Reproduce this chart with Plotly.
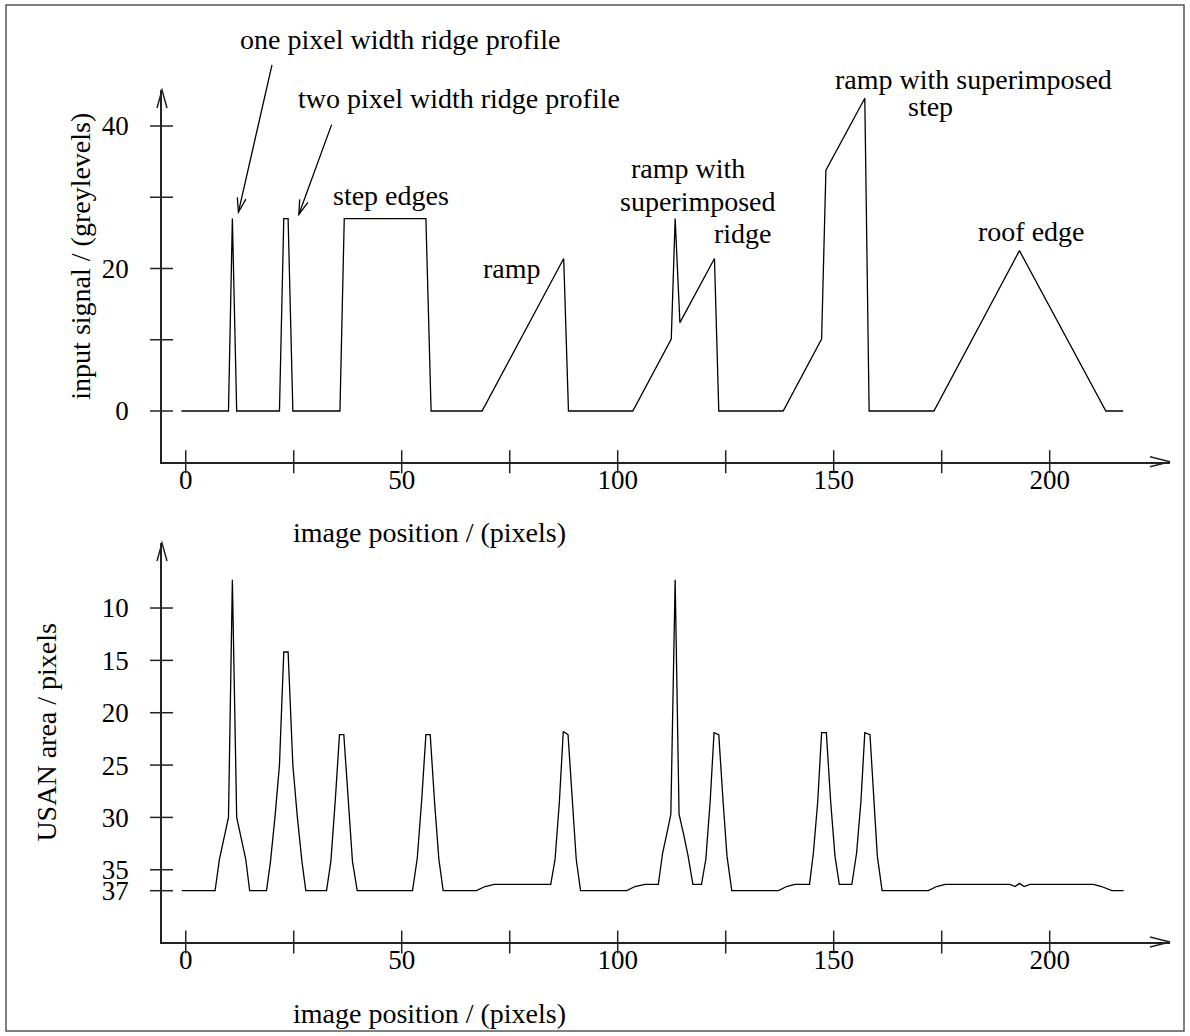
import math
import plotly.graph_objects as go

# ---------------- data ----------------
# top panel: input signal (greylevels) against image position (pixels)
pos_signal = [-1.0, 9.9, 10.8, 11.8, 21.7, 22.7, 23.7, 24.8, 35.7, 36.7, 55.6, 56.8,
              68.6, 87.5, 88.6, 103.5, 112.4, 113.3, 114.4, 122.4, 123.4,
              138.3, 147.2, 148.2, 157.2, 158.2, 173.2, 193.0, 213.0, 217.0]
signal = [0, 0, 27, 0, 0, 27, 27, 0, 0, 27, 27, 0,
          0, 21.4, 0, 0, 10.1, 27, 12.4, 21.4, 0,
          0, 10.1, 33.8, 43.9, 0, 0, 22.5, 0, 0]

# bottom panel: USAN area (pixels) against image position (pixels)
pos_usan = [-0.9, 6.8, 7.8, 9.9, 10.8, 11.8, 13.9, 14.8,
            18.7, 19.6, 20.7, 21.7, 22.7, 23.7, 24.8, 25.8, 26.9, 27.8,
            32.6, 33.6, 34.6, 35.6, 36.6, 37.6, 38.6, 39.7,
            52.5, 53.6, 54.6, 55.6, 56.6, 57.6, 58.6, 59.6,
            67.3, 69.3, 71.4, 84.5, 85.5, 86.5, 87.4, 88.5, 89.5, 90.4, 91.4,
            102.1, 104.0, 106.3, 109.4, 110.4, 111.4, 112.3, 113.3, 114.2, 115.3, 116.3, 117.4,
            119.4, 120.4, 121.4, 122.3, 123.4, 124.4, 125.3, 126.4,
            137.2, 139.1, 141.0, 144.4, 145.3, 146.3, 147.2, 148.3, 149.3, 150.3, 151.3,
            154.2, 155.3, 156.3, 157.2, 158.4, 159.3, 160.1, 161.2,
            171.9, 173.8, 175.8, 190.8, 192.0, 193.0, 194.1, 195.4, 210.1, 212.0, 214.4, 217.1]
usan = [37, 37, 34, 30, 7.3, 30, 34, 37,
        37, 34.3, 29.8, 25, 14.2, 14.2, 25, 29.8, 34.2, 37,
        37, 34.2, 28.5, 22.1, 22.1, 28.5, 34.2, 37,
        37, 33.9, 28.5, 22.1, 22.1, 28.5, 34, 37,
        37, 36.6, 36.4, 36.4, 34, 28.5, 21.8, 22.1, 28.5, 34, 37,
        37, 36.6, 36.4, 36.4, 33.4, 31.5, 29.7, 7.3, 29.7, 31.7, 33.7, 36.4,
        36.4, 34, 28.5, 21.9, 22.1, 28.5, 33.7, 37,
        37, 36.6, 36.4, 36.4, 33.4, 28.5, 21.9, 21.9, 28.5, 33.7, 36.4,
        36.4, 33.4, 28.5, 21.9, 22.1, 28.5, 33.7, 37,
        37, 36.6, 36.4, 36.4, 36.6, 36.3, 36.6, 36.4, 36.4, 36.6, 37, 37]

x_tick_vals = [0, 25, 50, 75, 100, 125, 150, 175, 200]
x_tick_text = ["0", "", "50", "", "100", "", "150", "", "200"]
y1_tick_vals = [0, 10, 20, 30, 40]
y1_tick_text = ["0", "", "20", "", "40"]
y2_tick_vals = [10, 15, 20, 25, 30, 35, 37]
y2_tick_text = ["10", "15", "20", "25", "30", "35", "37"]

x_title = "image position / (pixels)"
y1_title = "input signal / (greylevels)"
y2_title = "USAN area / pixels"

# feature labels: (text, x, y) in top-panel data units
feature_labels = [
    ("one pixel width ridge profile", 49.6, 52.07),
    ("two pixel width ridge profile", 63.15, 43.79),
    ("step edges", 47.5, 30.22),
    ("ramp", 75.5, 19.93),
    ("ramp with", 116.3, 34.1),
    ("superimposed", 118.5, 29.43),
    ("ridge", 129.0, 24.98),
    ("ramp with superimposed", 182.3, 46.5),
    ("step", 172.4, 42.77),
    ("roof edge", 195.9, 25.19),
]
# pointer arrows: (tail, tip) in top-panel data units
pointers = [((20.05, 48.8), (12.2, 27.9)),
            ((33.9, 40.4), (26.2, 27.6))]

# ---------------- layout geometry ----------------
W, H = 1190, 1036
M_L, M_R, M_T, M_B = 162, 20, 90, 94
PLOT_W = W - M_L - M_R
PLOT_H = H - M_T - M_B
X_RANGE = [-5.49, 227.85]
Y1_RANGE = [-7.12, 45.05]
Y2_RANGE = [41.90, 3.79]
TOP_DOMAIN = [0.5637, 1.0]
BOT_DOMAIN = [0.0, 0.4683]

FONT = "Liberation Serif"
AX_COL = "#222222"
LW_AX = 1.5
LW_DATA = 1.3
TXT = 28
TICK_TXT = 27

fig = go.Figure()
fig.add_trace(go.Scatter(x=pos_signal, y=signal, mode="lines",
                         line=dict(color="black", width=LW_DATA),
                         xaxis="x", yaxis="y", hoverinfo="skip", showlegend=False))
fig.add_trace(go.Scatter(x=pos_usan, y=usan, mode="lines",
                         line=dict(color="black", width=LW_DATA),
                         xaxis="x2", yaxis="y2", hoverinfo="skip", showlegend=False))

def xaxis_cfg(anchor):
    return dict(domain=[0, 1], anchor=anchor, range=X_RANGE, showline=True,
                linecolor=AX_COL, linewidth=LW_AX, showgrid=False, zeroline=False,
                tickmode="array", tickvals=x_tick_vals, ticktext=x_tick_text,
                ticks="", ticklabelstandoff=-7,
                tickfont=dict(family=FONT, size=TICK_TXT, color="black"), fixedrange=True)

def yaxis_cfg(anchor, domain, rng, vals, texts):
    return dict(domain=domain, anchor=anchor, range=rng, showline=True,
                linecolor=AX_COL, linewidth=LW_AX, showgrid=False, zeroline=False,
                tickmode="array", tickvals=vals, ticktext=texts,
                ticks="", ticklabelstandoff=26,
                tickfont=dict(family=FONT, size=TICK_TXT, color="black"), fixedrange=True)

shapes = []
# crossing tick marks
for xr, yr in (("x", "y domain"), ("x2", "y2 domain")):
    for v in x_tick_vals:
        shapes.append(dict(type="line", xref=xr, yref=yr, x0=v, x1=v,
                           ysizemode="pixel", yanchor=0, y0=-11.5, y1=11.5,
                           line=dict(color=AX_COL, width=LW_AX)))
for xr, yr, vals in (("x domain", "y", y1_tick_vals), ("x2 domain", "y2", y2_tick_vals)):
    for v in vals:
        shapes.append(dict(type="line", xref=xr, yref=yr, y0=v, y1=v,
                           xsizemode="pixel", xanchor=0, x0=-12, x1=11,
                           line=dict(color=AX_COL, width=LW_AX)))
# axis arrow heads
for xr, yr in (("x domain", "y domain"), ("x2 domain", "y2 domain")):
    shapes.append(dict(type="path", xref=xr, yref=yr, xsizemode="pixel", ysizemode="pixel",
                       xanchor=1, yanchor=0, path="M-20,5 L0,0 L-20,-5",
                       fillcolor="rgba(0,0,0,0)", line=dict(color=AX_COL, width=LW_AX)))
    shapes.append(dict(type="path", xref=xr, yref=yr, xsizemode="pixel", ysizemode="pixel",
                       xanchor=0, yanchor=1, path="M-5,-18 L0,0 L5,-18",
                       fillcolor="rgba(0,0,0,0)", line=dict(color=AX_COL, width=LW_AX)))

# pointer arrow heads (open V)
px_x = PLOT_W / (X_RANGE[1] - X_RANGE[0])
px_y = PLOT_H * (TOP_DOMAIN[1] - TOP_DOMAIN[0]) / (Y1_RANGE[1] - Y1_RANGE[0])

def v_head(tail, tip, length=15.0, half_angle=17.0):
    dx = (tip[0] - tail[0]) * px_x
    dy = (tip[1] - tail[1]) * px_y
    n = math.hypot(dx, dy)
    bx, by = -dx / n, -dy / n
    pts = []
    for s in (1, -1):
        a = math.radians(half_angle) * s
        rx = bx * math.cos(a) - by * math.sin(a)
        ry = bx * math.sin(a) + by * math.cos(a)
        pts.append((rx * length, ry * length))
    return "M{:.2f},{:.2f} L0,0 L{:.2f},{:.2f}".format(pts[0][0], pts[0][1], pts[1][0], pts[1][1])

for tail, tip in pointers:
    shapes.append(dict(type="path", xref="x", yref="y", xsizemode="pixel", ysizemode="pixel",
                       xanchor=tip[0], yanchor=tip[1], path=v_head(tail, tip),
                       fillcolor="rgba(0,0,0,0)", line=dict(color="black", width=LW_DATA)))

# outer frame
def px_to_paper_x(px):
    return (px - M_L) / PLOT_W

def px_to_paper_y(py):
    return (H - M_B - py) / PLOT_H

shapes.append(dict(type="rect", xref="paper", yref="paper",
                   x0=px_to_paper_x(6), x1=px_to_paper_x(1184),
                   y0=px_to_paper_y(1031), y1=px_to_paper_y(5),
                   line=dict(color="#555555", width=1.5), fillcolor="rgba(0,0,0,0)", layer="below"))

def y1_to_domain(v):
    return (v - Y1_RANGE[0]) / (Y1_RANGE[1] - Y1_RANGE[0])

annotations = []
for text, x, y in feature_labels:
    annotations.append(dict(text=text, x=x, y=y1_to_domain(y), xref="x", yref="y domain",
                            showarrow=False, xanchor="center", yanchor="middle",
                            font=dict(family=FONT, size=TXT, color="black")))
for tail, tip in pointers:
    annotations.append(dict(text="", x=tip[0], y=tip[1], ax=tail[0], ay=tail[1],
                            xref="x", yref="y", axref="x", ayref="y",
                            showarrow=True, arrowhead=0, arrowwidth=LW_DATA,
                            arrowcolor="black", standoff=0, startstandoff=0))
# axis titles
for xr, yr in (("x", "y domain"), ("x2", "y2 domain")):
    annotations.append(dict(text=x_title, x=56.4, y=0, xref=xr, yref=yr, yshift=-71,
                            showarrow=False, xanchor="center", yanchor="middle",
                            font=dict(family=FONT, size=TXT, color="black")))
annotations.append(dict(text=y1_title, x=0, y=21.66, xref="x domain", yref="y", xshift=-81,
                        textangle=-90, showarrow=False, xanchor="center", yanchor="middle",
                        font=dict(family=FONT, size=TXT, color="black")))
annotations.append(dict(text=y2_title, x=0, y=21.9, xref="x2 domain", yref="y2", xshift=-115,
                        textangle=-90, showarrow=False, xanchor="center", yanchor="middle",
                        font=dict(family=FONT, size=TXT, color="black")))

fig.update_layout(
    width=W, height=H, autosize=False,
    margin=dict(l=M_L, r=M_R, t=M_T, b=M_B, pad=0),
    paper_bgcolor="white", plot_bgcolor="white",
    font=dict(family=FONT, color="black"),
    showlegend=False,
    xaxis=xaxis_cfg("y"),
    xaxis2=xaxis_cfg("y2"),
    yaxis=yaxis_cfg("x", TOP_DOMAIN, Y1_RANGE, y1_tick_vals, y1_tick_text),
    yaxis2=yaxis_cfg("x2", BOT_DOMAIN, Y2_RANGE, y2_tick_vals, y2_tick_text),
    shapes=shapes,
    annotations=annotations,
)

fig.write_html("out.html", config={"displayModeBar": False})
